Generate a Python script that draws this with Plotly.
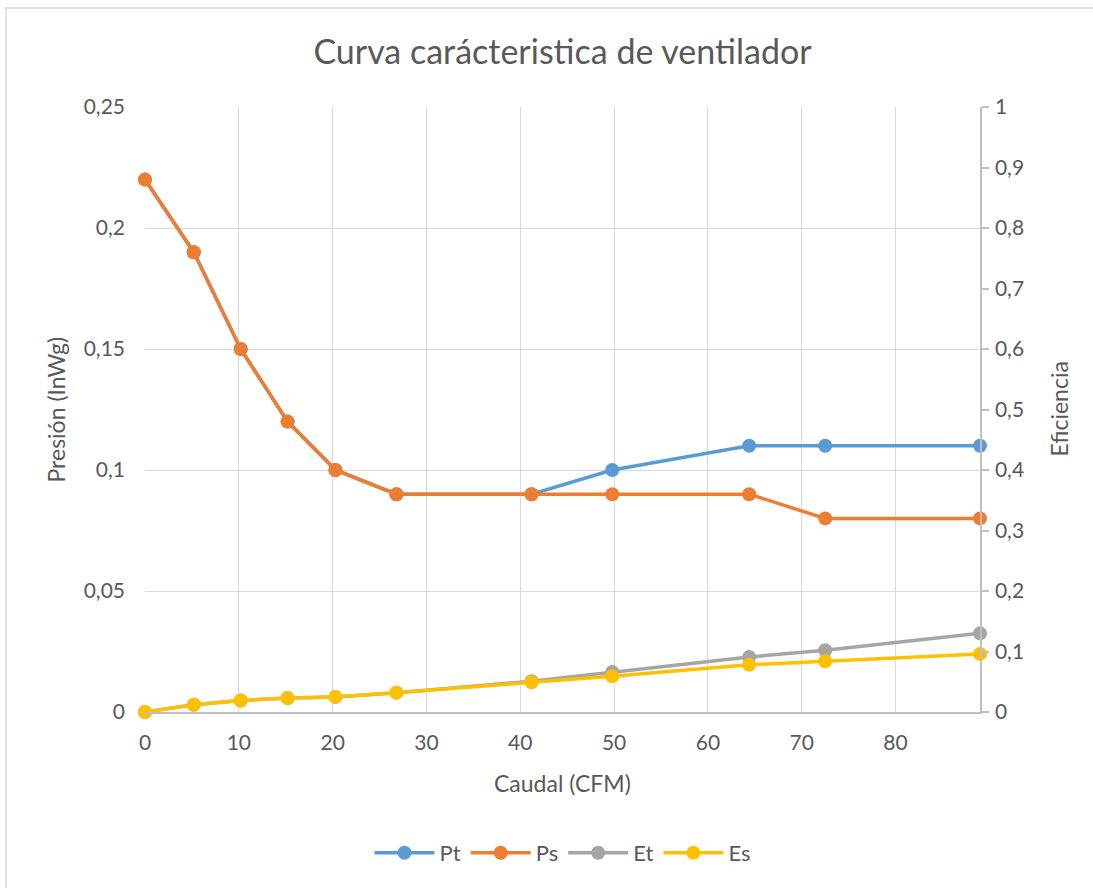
import plotly.graph_objects as go

# Caudal (CFM) measured at each operating point
caudal = [0, 5.2, 10.2, 15.2, 20.3, 26.8, 41.2, 49.8, 64.4, 72.5, 89.0]

# Presión total y estática (InWg)
pt = [0.22, 0.19, 0.15, 0.12, 0.10, 0.09, 0.09, 0.10, 0.11, 0.11, 0.11]
ps = [0.22, 0.19, 0.15, 0.12, 0.10, 0.09, 0.09, 0.09, 0.09, 0.08, 0.08]

# Eficiencia total y estática
et = [0, 0.012, 0.019, 0.023, 0.025, 0.032, 0.051, 0.066, 0.091, 0.102, 0.130]
es = [0, 0.012, 0.019, 0.023, 0.025, 0.032, 0.049, 0.059, 0.078, 0.084, 0.096]

# Axis ticks
x_ticks = [0, 10, 20, 30, 40, 50, 60, 70, 80]
p_ticks = [0, 0.05, 0.10, 0.15, 0.20, 0.25]
p_labels = ["0", "0,05", "0,1", "0,15", "0,2", "0,25"]
e_ticks = [0, 0.1, 0.2, 0.3, 0.4, 0.5, 0.6, 0.7, 0.8, 0.9, 1.0]
e_labels = ["0", "0,1", "0,2", "0,3", "0,4", "0,5", "0,6", "0,7", "0,8", "0,9", "1"]

FONT = "Lato, 'Open Sans', sans-serif"
TXT = "#595959"
GRID = "#D9D9D9"
AXIS = "#BFBFBF"

series = [
    ("Pt", caudal, pt, "y", "#5B9BD5"),
    ("Ps", caudal, ps, "y", "#ED7D31"),
    ("Et", caudal, et, "y2", "#A5A5A5"),
    ("Es", caudal, es, "y2", "#FFC000"),
]

fig = go.Figure()
for name, xs, ys, axis, color in series:
    fig.add_trace(go.Scatter(
        x=xs, y=ys, name=name, yaxis=axis,
        mode="lines+markers",
        line=dict(color=color, width=3.5),
        marker=dict(color=color, size=14),
        cliponaxis=False,
    ))

fig.update_layout(
    width=1093, height=888,
    margin=dict(l=145, r=113, t=107, b=176),
    paper_bgcolor="white", plot_bgcolor="white",
    font=dict(family=FONT, color=TXT, size=21),
    title=dict(text="Curva carácteristica de ventilador",
               x=0.5, xref="paper", xanchor="center",
               y=1 - 52 / 888, yref="container", yanchor="middle",
               font=dict(size=34, color=TXT, family=FONT)),
    xaxis=dict(range=[0, 89], tickvals=x_ticks, showgrid=True,
               gridcolor=GRID, gridwidth=1.4, zeroline=False,
               showline=True, linecolor=AXIS, linewidth=1.5,
               ticks="", ticklabelstandoff=11,
               tickfont=dict(size=21, color=TXT)),
    yaxis=dict(range=[0, 0.25], tickvals=p_ticks, ticktext=p_labels,
               showgrid=True, gridcolor=GRID, gridwidth=1.4,
               zeroline=False, showline=False, ticks="",
               ticklabelstandoff=19,
               tickfont=dict(size=21, color=TXT)),
    yaxis2=dict(range=[0, 1], tickvals=e_ticks, ticktext=e_labels,
                overlaying="y", side="right", showgrid=False,
                zeroline=False, showline=True, linecolor=AXIS, linewidth=1.5,
                ticks="outside", ticklen=7, tickcolor=AXIS, tickwidth=1.5,
                ticklabelstandoff=2,
                tickfont=dict(size=21, color=TXT)),
    legend=dict(orientation="h", x=0.5, xanchor="center",
                y=-0.233, yanchor="middle",
                font=dict(size=22, color=TXT), itemwidth=60),
    showlegend=True,
)

# Axis titles
axis_titles = [
    ("Caudal (CFM)", 0.5, (712 - 783) / 605, 0),
    ("Presión (InWg)", (55 - 145) / 835, 0.5, -90),
    ("Eficiencia", (1058 - 145) / 835, 0.5, -90),
]
for text, ax, ay, angle in axis_titles:
    fig.add_annotation(text=text, xref="paper", yref="paper",
                       x=ax, y=ay, xanchor="center", yanchor="middle",
                       textangle=angle, showarrow=False,
                       font=dict(size=23, color=TXT, family=FONT))

# Chart frame
fig.add_shape(type="rect", xref="paper", yref="paper",
              x0=-0.1665, x1=1.16, y0=-0.295, y1=1.1636,
              line=dict(color="#D9D9D9", width=1.5), layer="below")

fig.write_html("out.html")
